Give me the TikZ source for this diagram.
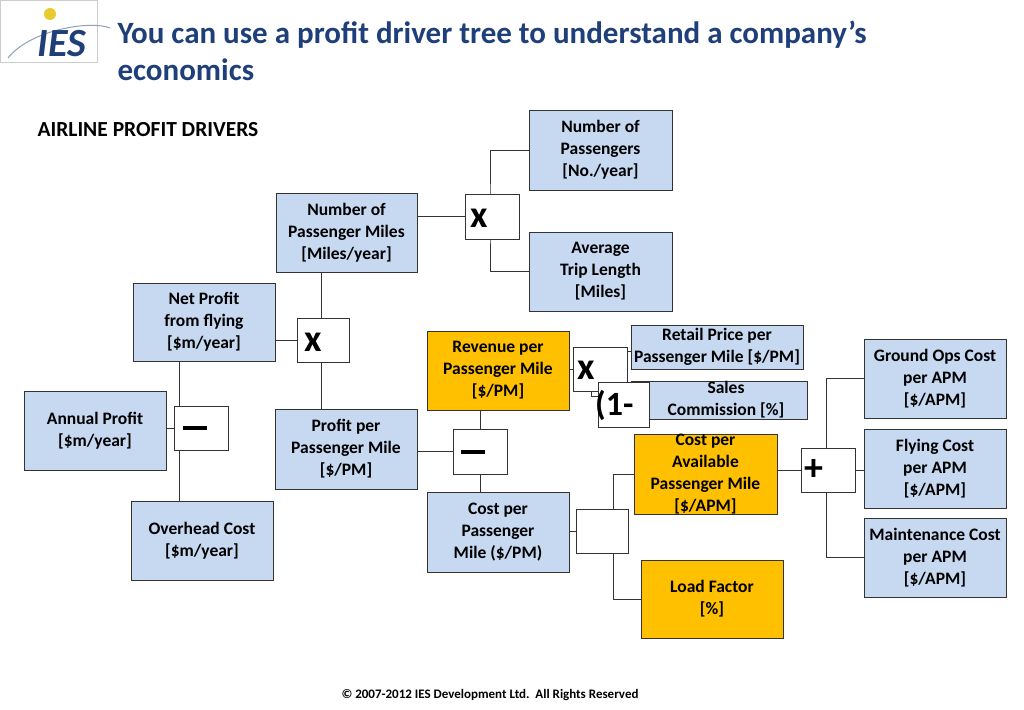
\documentclass[tikz,border=0pt]{standalone}
\usepackage{fontspec}
\setmainfont{Carlito}
\usetikzlibrary{backgrounds,calc}
\definecolor{lb}{HTML}{C6D9F1}
\definecolor{org}{HTML}{FFC000}
\definecolor{ttl}{HTML}{1F3F7A}
\begin{document}
\begin{tikzpicture}[x=1pt,y=-1pt,
  bx/.style={draw=black!80,line width=0.8pt,fill=lb,align=center,inner sep=0pt,font=\bfseries\fontsize{17.5}{22}\selectfont},
  ob/.style={bx,fill=org},
  op/.style={draw=black!80,line width=0.8pt,fill=white,inner sep=0pt},
  sym/.style={anchor=west,inner sep=0pt,font=\bfseries\fontsize{38}{38}\selectfont},
  ln/.style={draw=black!80,line width=0.8pt}]
\useasboundingbox (0,0) rectangle (1024,709);
% logo
\node[draw=black!20,fill=white,minimum width=97,minimum height=62,inner sep=0] (logo) at (48.5,31) {};
\draw[ttl!50,line width=1pt] (8,58) .. controls (30,30) and (90,20) .. (110,28);
\fill[yellow!60!brown] (50,14) circle (6);
\node[text=ttl,font=\bfseries\itshape\fontsize{40}{40}\selectfont] (ies) at (62,44) {IES};
% title
\node[anchor=west,text=ttl,font=\bfseries\fontsize{31}{37}\selectfont,align=left] (title) at (114,51) {You can use a profit driver tree to understand a company’s\\economics};
\node[anchor=west,font=\bfseries\fontsize{21.5}{22}\selectfont] (hdr) at (34,130) {AIRLINE PROFIT DRIVERS};
% boxes
\node[bx,minimum width=143,minimum height=80] (NumPass) at (600.5,150) {Number of\\Passengers\\{[No./year]}};
\node[bx,minimum width=143,minimum height=79] (AvgTrip) at (600.5,271.5) {Average\\Trip Length\\{[Miles]}};
\node[bx,minimum width=141,minimum height=79] (NumPM) at (346.5,232.5) {Number of\\Passenger Miles\\{[Miles/year]}};
\node[bx,minimum width=142,minimum height=78] (Net) at (204,322) {Net Profit\\from flying\\{[\$m/year]}};
\node[bx,minimum width=142,minimum height=79] (Annual) at (95,430.5) {Annual Profit\\{[\$m/year]}};
\node[bx,minimum width=142,minimum height=79] (Over) at (202,540.5) {Overhead Cost\\{[\$m/year]}};
\node[bx,minimum width=142,minimum height=80] (PPM) at (346,449) {Profit per\\Passenger Mile\\{[\$/PM]}};
\node[ob,minimum width=142,minimum height=79] (Rev) at (498,370.5) {Revenue per\\Passenger Mile\\{[\$/PM]}};
\node[bx,minimum width=172,minimum height=44] (Retail) at (717,347) {Retail Price per\\Passenger Mile [\$/PM]};
\node[bx,minimum width=176,minimum height=38] (Sales) at (719,400) {\hspace*{14pt}Sales\\\hspace*{14pt}Commission [\%]};
\node[bx,minimum width=142,minimum height=80] (CPM) at (498,532) {Cost per\\Passenger\\Mile (\$/PM)};
\node[ob,minimum width=143,minimum height=79] (CAPM) at (705.5,474.5) {Cost per\\Available\\Passenger Mile\\{[\$/APM]}};
\node[ob,minimum width=142,minimum height=78] (LF) at (712,599) {Load Factor\\{[\%]}};
\node[bx,minimum width=142,minimum height=79] (Ground) at (935,378.5) {Ground Ops Cost\\per APM\\{[\$/APM]}};
\node[bx,minimum width=142,minimum height=79] (Fly) at (935,468.5) {Flying Cost\\per APM\\{[\$/APM]}};
\node[bx,minimum width=142,minimum height=79] (Maint) at (935,557.5) {Maintenance Cost\\per APM\\{[\$/APM]}};
% operators
\node[op,minimum width=54,minimum height=45] (x1) at (492,216.5) {};
\node[sym] (x1t) at (470,218) {x};
\node[op,minimum width=52,minimum height=44] (x2) at (323,340) {};
\node[sym] (x2t) at (304,342) {x};
\node[op,minimum width=54,minimum height=44] (m1) at (201,428) {};
\node[sym] (m1t) at (183,428) {\rule{24pt}{3.5pt}};
\node[op,minimum width=54,minimum height=45] (m2) at (480,451.5) {};
\node[sym] (m2t) at (461,452) {\rule{24pt}{3.5pt}};
\node[op,minimum width=54,minimum height=44] (x3) at (600,369) {};
\node[sym] (x3t) at (577,370) {x};
\node[op,minimum width=51,minimum height=45] (one) at (623.5,404.5) {};
\node[sym,font=\bfseries\fontsize{34}{34}\selectfont] (onet) at (595,405) {(1-};
\node[op,minimum width=52,minimum height=44] (e1) at (602,531) {};
\node[op,minimum width=54,minimum height=44] (p1) at (828,470) {};
\node[sym] (p1t) at (804,470) {+};
% footer
\node[font=\bfseries\fontsize{13}{13}\selectfont] (foot) at (490,695) {© 2007-2012 IES Development Ltd.\ \ All Rights Reserved};
% connectors
\begin{pgfonlayer}{background}
\draw[ln] (x1.west) -- (x1.west -| NumPM.east);
\draw[ln] (NumPass.west) -| ([xshift=-2]x1.center) |- (AvgTrip.west);
\draw[ln] (x2.west) -- (x2.west -| Net.east);
\draw[ln] ([xshift=-2]x2.center |- NumPM.south) -- ([xshift=-2]x2.center |- PPM.north);
\draw[ln] (m1.west) -- (m1.west -| Annual.east);
\draw[ln] ([xshift=6]m1.west |- Net.south) -- ([xshift=6]m1.west |- Over.north);
\draw[ln] (m2.west) -- (m2.west -| PPM.east);
\draw[ln] (m2.center |- Rev.south) -- (m2.center |- CPM.north);
\draw[ln] (x3.west) -- (x3.west -| Rev.east);
\draw[ln] ([yshift=-4]Retail.west) -| (591,396) -- (Sales.west |- 0,396);
\draw[ln] (e1.west) -- (e1.west -| CPM.east);
\draw[ln] (CAPM.west) -| (613,599) -- (LF.west);
\draw[ln] (p1.west) -- (p1.west -| CAPM.east);
\draw[ln] (Ground.west) -| (826,378) |- (Maint.west);
\draw[ln] (p1.east) -- (p1.east -| Fly.west);
\end{pgfonlayer}
\end{tikzpicture}
\end{document}
